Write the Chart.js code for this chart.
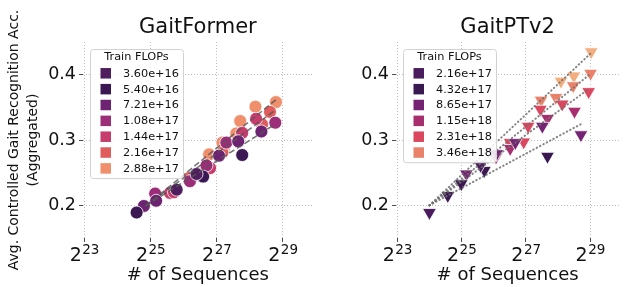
<!DOCTYPE html>
<html>
<head>
<meta charset="utf-8">
<script src="https://cdn.jsdelivr.net/npm/chart.js@4.4.1/dist/chart.umd.min.js"></script>
<style>
  html, body { margin: 0; padding: 0; background: #fff; }
  #wrap { position: relative; width: 628px; height: 287px; overflow: hidden; }
  .panel { position: absolute; top: 0; height: 287px; }
  #leftPanel { left: 0; width: 320px; }
  #rightPanel { left: 320px; width: 308px; }
</style>
</head>
<body>
<div id="wrap">
  <div class="panel" id="leftPanel"><canvas id="gaitformer" width="320" height="287"></canvas></div>
  <div class="panel" id="rightPanel"><canvas id="gaitptv2" width="308" height="287"></canvas></div>
</div>
<script>
// ---------- shared axis data ----------
const X_TICKS = [23, 25, 27, 29];          // exponents of 2
const Y_TICKS = [0.2, 0.3, 0.4];

// ---------- GaitFormer ----------
const GF_FLOPS = ["3.60e+16", "5.40e+16", "7.21e+16", "1.08e+17", "1.44e+17", "2.16e+17", "2.88e+17"];
const GF_COLORS = ["#4e1e5f", "#3b1853", "#6d2371", "#9c2d78", "#c63c6c", "#e05b5c", "#ef8f6c"];
const GF_LOG2_SEQ = [24.58, 24.80, 25.17, 25.14, 25.59, 25.71, 25.79, 26.17, 26.19, 26.39, 26.59, 26.61, 26.69, 26.77,
                     26.80, 27.07, 27.17, 27.17, 27.21, 27.29, 27.59, 27.77, 27.65, 27.77, 27.71, 28.17, 28.19, 28.37,
                     28.35, 28.61, 28.79, 28.77];
const GF_ACC = [0.189, 0.199, 0.207, 0.218, 0.219, 0.220, 0.224, 0.242, 0.237, 0.248, 0.244, 0.2495, 0.261, 0.278,
                0.257, 0.276, 0.281, 0.296, 0.285, 0.296, 0.310, 0.311, 0.298, 0.277, 0.329, 0.351, 0.3325, 0.324,
                0.313, 0.343, 0.358, 0.3265];
const GF_GROUP = [1, 2, 2, 3, 4, 4, 0, 5, 3, 0, 1, 5, 3, 6,
                  4, 2, 5, 6, 6, 3, 6, 4, 2, 1, 6, 6, 4, 5,
                  2, 5, 6, 3];
const GF_FIT_X = [[24.85, 28.8], [24.85, 28.75], [24.85, 28.7]];
const GF_FIT_Y = [[0.199, 0.362], [0.199, 0.345], [0.199, 0.322]];

// ---------- GaitPTv2 ----------
const PT_FLOPS = ["2.16e+17", "4.32e+17", "8.65e+17", "1.15e+18", "2.31e+18", "3.46e+18"];
const PT_COLORS = ["#4b1c5d", "#3a1850", "#752473", "#a82f6f", "#d9485e", "#ea816b", "#f3ae80"];
const PT_LOG2_SEQ = [24.00, 24.57, 24.99, 25.15, 25.59, 25.71, 26.09, 26.07, 26.51, 26.51, 26.67, 26.93, 27.07, 27.51,
                     27.47, 27.45, 27.67, 27.67, 27.93, 28.13, 28.09, 28.49, 28.47, 28.51, 28.71, 29.03, 29.01, 28.95];
const PT_ACC = [0.189, 0.215, 0.233, 0.248, 0.261, 0.2535, 0.279, 0.274, 0.296, 0.287, 0.296, 0.297, 0.321, 0.321,
                0.361, 0.347, 0.333, 0.275, 0.365, 0.355, 0.390, 0.398, 0.383, 0.344, 0.308, 0.435, 0.402, 0.374];
const PT_GROUP = [0, 1, 1, 2, 0, 1, 2, 3, 4, 3, 2, 4, 4, 2,
                  5, 4, 3, 1, 5, 4, 6, 6, 5, 3, 2, 6, 5, 4];
const PT_FIT_X = [[24.0, 29.0], [24.0, 29.0], [24.0, 28.95], [24.0, 28.7]];
const PT_FIT_Y = [[0.200, 0.432], [0.200, 0.401], [0.200, 0.378], [0.200, 0.324]];

const FONT = '"DejaVu Sans", sans-serif';
const TEXT = "#111111";

// ---------- plugins ----------
// x tick labels drawn as 2 with a raised exponent
const expTicks = {
  id: "expTicks",
  afterDraw(chart) {
    const s = chart.scales.x, ctx = chart.ctx;
    ctx.save();
    ctx.fillStyle = TEXT;
    ctx.textBaseline = "alphabetic";
    ctx.textAlign = "left";
    for (const t of s.ticks) {
      const base = "2", exp = String(t.value);
      ctx.font = `19px ${FONT}`;
      const wb = ctx.measureText(base).width;
      ctx.font = `13.5px ${FONT}`;
      const we = ctx.measureText(exp).width;
      const x0 = s.getPixelForValue(t.value) - (wb + we) / 2;
      ctx.font = `19px ${FONT}`;
      ctx.fillText(base, x0, s.top + 23);
      ctx.font = `13.5px ${FONT}`;
      ctx.fillText(exp, x0 + wb + 0.5, s.top + 15.5);
    }
    ctx.restore();
  },
};

// framed legend in the top-left corner of the plot area
const boxLegend = {
  id: "boxLegend",
  afterDatasetsDraw(chart, args, o) {
    const ctx = chart.ctx, a = chart.chartArea;
    const n = o.labels.length;
    const left = a.left + 7, top = a.top + 7;
    const w = 93, h = 24.3 + (n - 1) * 15.85 + 9.7;
    ctx.save();
    ctx.beginPath();
    ctx.roundRect(left + 0.5, top + 0.5, w, h, 3);
    ctx.fillStyle = "rgba(255,255,255,0.85)";
    ctx.fill();
    ctx.strokeStyle = "#d2d2d2";
    ctx.lineWidth = 1;
    ctx.stroke();
    ctx.fillStyle = TEXT;
    ctx.font = `11.3px ${FONT}`;
    ctx.textBaseline = "middle";
    ctx.textAlign = "center";
    ctx.fillText(o.title, left + w / 2, top + 8.5);
    ctx.textAlign = "left";
    o.labels.forEach((lab, i) => {
      const cy = top + 24.3 + i * 15.85;
      ctx.fillStyle = o.colors[i];
      ctx.fillRect(left + 10.5, cy - 5.25, 10.5, 10.5);
      ctx.fillStyle = TEXT;
      ctx.fillText(lab, left + 33, cy + 0.5);
    });
    ctx.restore();
  },
};

// ---------- panel builder ----------
function makePanel(id, p) {
  const datasets = [];
  p.fitX.forEach((xs, i) => {
    datasets.push({
      data: xs.map((x, j) => ({ x, y: p.fitY[i][j] })),
      showLine: true,
      borderColor: p.fitColor,
      borderWidth: p.fitWidth,
      borderDash: p.fitDash,
      borderCapStyle: p.fitCap,
      pointRadius: 0,
      order: 0,
    });
  });
  p.colors.forEach((color, g) => {
    const pts = [];
    p.seq.forEach((x, k) => { if (p.group[k] === g) pts.push({ x, y: p.acc[k] }); });
    datasets.push({
      label: p.labels[g] || "",
      data: pts,
      backgroundColor: color,
      borderColor: "#ffffff",
      borderWidth: 0.8,
      pointStyle: p.marker,
      rotation: p.rotation,
      pointRadius: p.radius,
      pointHoverRadius: p.radius,
      order: 1,
    });
  });

  const gridCfg = { color: "#bdbdbd", lineWidth: 1, tickColor: "#4d4d4d", tickLength: 4, tickWidth: 1 };

  return new Chart(document.getElementById(id), {
    type: "scatter",
    data: { datasets },
    options: {
      responsive: false,
      animation: false,
      events: [],
      layout: { padding: { left: 0, right: p.padRight, top: 0, bottom: 0 } },
      plugins: {
        legend: { display: false },
        tooltip: { enabled: false },
        title: {
          display: true,
          fullSize: false,
          text: p.title,
          color: TEXT,
          font: { family: FONT, size: 21, weight: "normal", lineHeight: 1.2 },
          padding: { top: 15, bottom: 1.8 },
        },
        boxLegend: { title: "Train FLOPs", labels: p.labels, colors: p.colors },
      },
      scales: {
        x: {
          type: "linear",
          min: 22.96,
          max: 29.9,
          afterBuildTicks: (s) => { s.ticks = X_TICKS.map((v) => ({ value: v })); },
          afterFit: (s) => { s.height = 49; },
          ticks: { display: false },
          grid: gridCfg,
          border: { display: false, dash: [1, 2] },
          title: {
            display: true,
            text: "# of Sequences",
            color: TEXT,
            font: { family: FONT, size: 18 },
            padding: { top: 0, bottom: 0.5 },
          },
        },
        y: {
          type: "linear",
          min: 0.15,
          max: 0.45,
          afterBuildTicks: (s) => { s.ticks = Y_TICKS.map((v) => ({ value: v })); },
          afterFit: (s) => { s.width = p.yWidth; },
          ticks: {
            color: TEXT,
            padding: 3,
            font: { family: FONT, size: 17.5 },
            callback: (v) => v.toFixed(1),
          },
          grid: gridCfg,
          border: { display: false, dash: [1, 2] },
          title: {
            display: !!p.yTitle,
            text: p.yTitle || "",
            color: TEXT,
            font: { family: FONT, size: 14, lineHeight: "19px" },
            padding: { top: 4.5, bottom: 0 },
          },
        },
      },
    },
    plugins: [expTicks, boxLegend],
  });
}

makePanel("gaitformer", {
  title: "GaitFormer",
  labels: GF_FLOPS,
  colors: GF_COLORS,
  seq: GF_LOG2_SEQ,
  acc: GF_ACC,
  group: GF_GROUP,
  fitX: GF_FIT_X,
  fitY: GF_FIT_Y,
  fitColor: "rgba(85,85,85,0.8)",
  fitWidth: 1.6,
  fitDash: [6, 3],
  fitCap: "butt",
  marker: "circle",
  rotation: 0,
  radius: 6.5,
  yWidth: 83,
  padRight: 6,
  yTitle: ["Avg. Controlled Gait Recognition Acc.", "(Aggregated)"],
});

makePanel("gaitptv2", {
  title: "GaitPTv2",
  labels: PT_FLOPS,
  colors: PT_COLORS,
  seq: PT_LOG2_SEQ,
  acc: PT_ACC,
  group: PT_GROUP,
  fitX: PT_FIT_X,
  fitY: PT_FIT_Y,
  fitColor: "rgba(110,110,110,0.85)",
  fitWidth: 2,
  fitDash: [0.5, 3.3],
  fitCap: "round",
  marker: "triangle",
  rotation: 180,
  radius: 8,
  yWidth: 76,
  padRight: 1,
  yTitle: null,
});
</script>
</body>
</html>
